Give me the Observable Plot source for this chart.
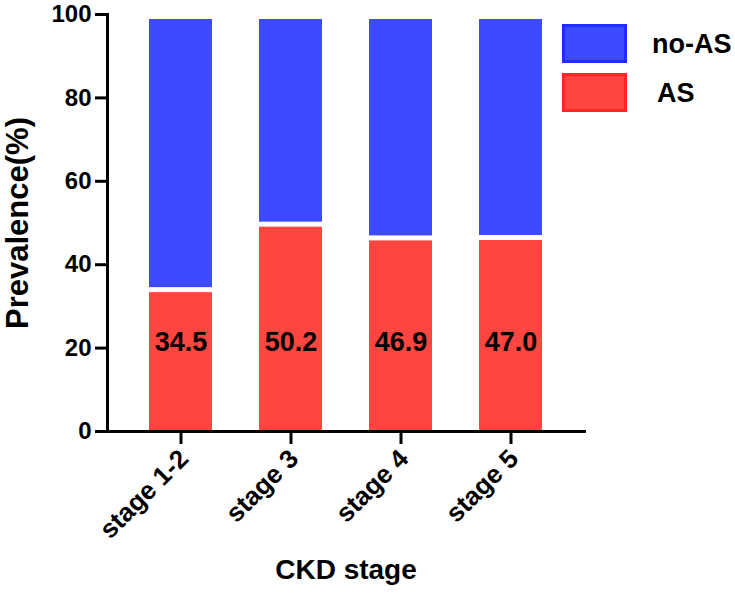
<!DOCTYPE html>
<html>
<head>
<meta charset="utf-8">
<script src="https://cdn.jsdelivr.net/npm/d3@7"></script>
<script src="https://cdn.jsdelivr.net/npm/@observablehq/plot@0.6"></script>
<style>
  html, body { margin: 0; padding: 0; background: #fff; }
  #chart { position: relative; width: 735px; height: 598px; }
</style>
</head>
<body>
<div id="chart"></div>
<script>
const stages = ["stage 1-2", "stage 3", "stage 4", "stage 5"];
const asValues = [34.5, 50.2, 46.9, 47.0];
const noAsValues = [65.5, 49.8, 53.1, 53.0];
const groups = ["no-AS", "AS"];
const yTicks = [0, 20, 40, 60, 80, 100];
const colors = ["#3c4bff", "#ff4540"];
const borderColors = ["#1f2eff", "#ff2626"];

const rows = [];
stages.forEach((s, i) => {
  rows.push({stage: s, group: "AS", value: asValues[i]});
  rows.push({stage: s, group: "no-AS", value: noAsValues[i]});
});
const asRows = stages.map((s, i) => ({stage: s, value: asValues[i]}));

const font = "'Liberation Sans', Arial, Helvetica, sans-serif";

const plot = Plot.plot({
  width: 735,
  height: 598,
  marginTop: 14,
  marginBottom: 167,
  marginLeft: 107,
  marginRight: 151,
  style: {fontFamily: font, fontWeight: "bold", color: "black", background: "white"},
  x: {domain: stages, paddingInner: 0.43, paddingOuter: 0.383, axis: null},
  y: {domain: [0, 100], axis: null},
  color: {domain: groups, range: colors},
  marks: [
    Plot.barY(rows, {x: "stage", y: "value", fill: "group", insetTop: 5}),
    Plot.text(asRows, {x: "stage", text: d => d.value.toFixed(1), frameAnchor: "bottom", dy: -81, fontSize: 27, fontWeight: "bold", fill: "black"}),
    Plot.axisY({ticks: yTicks, tickSize: 12, tickPadding: 4, strokeWidth: 3, fontSize: 24, fontWeight: "bold", label: null}),
    Plot.axisX({tickSize: 13, strokeWidth: 3, tickFormat: () => "", label: null}),
    Plot.text(stages, {x: d => d, frameAnchor: "bottom", rotate: -45, textAnchor: "end", lineAnchor: "middle", dx: 3, dy: 23, fontSize: 26, fontWeight: "bold"}),
    Plot.frame({anchor: "left", strokeWidth: 3}),
    Plot.frame({anchor: "bottom", strokeWidth: 3}),
    Plot.text(["Prevalence(%)"], {frameAnchor: "left", rotate: -90, textAnchor: "middle", dx: -89, fontSize: 31, fontWeight: "bold"}),
    Plot.text(["CKD stage"], {frameAnchor: "bottom", textAnchor: "middle", dy: 147, fontSize: 28, fontWeight: "bold"})
  ]
});

document.getElementById("chart").appendChild(plot);

// legend
const svg = d3.select(plot);
const leg = svg.append("g").attr("font-family", font).attr("font-weight", "bold").attr("font-size", 27).attr("text-anchor", "start");
const legendItems = [
  {label: groups[0], fill: colors[0], stroke: borderColors[0], y: 25.5, tx: 652},
  {label: groups[1], fill: colors[1], stroke: borderColors[1], y: 74.5, tx: 657}
];
legendItems.forEach(it => {
  leg.append("rect").attr("x", 563.5).attr("y", it.y).attr("width", 62).attr("height", 36)
    .attr("fill", it.fill).attr("stroke", it.stroke).attr("stroke-width", 3);
  leg.append("text").attr("x", it.tx).attr("y", it.y + 18).attr("dy", "0.35em").attr("fill", "black").text(it.label);
});
</script>
</body>
</html>
